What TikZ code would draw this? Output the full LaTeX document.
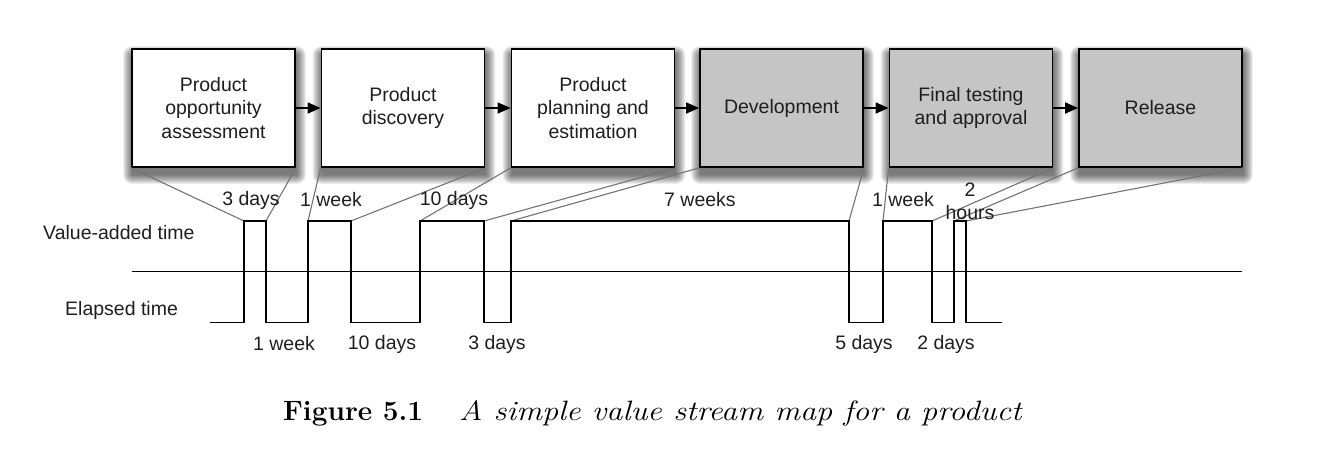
\documentclass[tikz,border=0pt]{standalone}
\usepackage{fontspec}
\setmainfont{Latin Modern Roman}
\newfontfamily\boxfont{Liberation Sans}
\usetikzlibrary{arrows.meta,backgrounds}

\definecolor{stepgray}{RGB}{197,197,197}
\definecolor{inkgray}{RGB}{30,30,30}
\definecolor{linkgray}{RGB}{115,115,115}

\tikzset{
  stage/.style={draw=black, line width=1.8pt, fill=white,
    minimum width=163pt, minimum height=118pt, inner sep=0pt,
    align=center, text=inkgray, font=\boxfont\fontsize{19.5}{23.5}\selectfont},
  stagedone/.style={stage, fill=stepgray},
  flow/.style={line width=1.8pt, -{Triangle[length=13pt,width=11pt]}},
  wave/.style={line width=1.8pt, line join=miter},
  link/.style={draw=linkgray, line width=1.1pt},
  lbl/.style={text=inkgray, inner sep=0pt, font=\boxfont\fontsize{19.5}{23}\selectfont, align=center}
}

\begin{document}
\begin{tikzpicture}[x=1pt,y=-1pt]
\useasboundingbox (0,0) rectangle (1320,456);

% process stages
\node[stage]     (s1) at (213.5,108) {Product\\opportunity\\assessment};
\node[stage]     (s2) at (403,108)   {Product\\discovery};
\node[stage]     (s3) at (593,108)   {Product\\planning and\\estimation};
\node[stagedone] (s4) at (781.5,108) {Development};
\node[stagedone] (s5) at (971,108)   {Final testing\\and approval};
\node[stagedone] (s6) at (1160.5,108) {Release};

% soft drop shadows behind the stages
\begin{pgfonlayer}{background}
\foreach \s in {s1,s2,s3,s4,s5,s6}{
  \foreach \r in {0,1,...,9}{
    \fill[black, opacity=0.07, rounded corners=\r pt]
      ([xshift=1pt-\r pt, yshift=-7pt-\r pt]\s.south west)
      rectangle ([xshift=1pt+\r pt, yshift=-7pt+\r pt]\s.north east);
  }
}
\end{pgfonlayer}

\foreach \a/\b in {s1/s2,s2/s3,s3/s4,s4/s5,s5/s6}
  \draw[flow] (\a.east) -- (\b.west);

% timeline corners (low = 322.5, axis = 271.5, high = 221)
\coordinate (t0)  at (210,322.5);
\coordinate (u1)  at (244,221);  \coordinate (d1)  at (266,221);
\coordinate (u2)  at (308,221);  \coordinate (d2)  at (351,221);
\coordinate (u3)  at (420,221);  \coordinate (d3)  at (484,221);
\coordinate (u4)  at (511,221);  \coordinate (d4)  at (849,221);
\coordinate (u5)  at (883,221);  \coordinate (d5)  at (932,221);
\coordinate (u6)  at (954,221);  \coordinate (d6)  at (966,221);
\coordinate (tE)  at (1002,322.5);
\coordinate (axL) at (131.5,271.5);
\coordinate (axR) at (1242,271.5);

% links from each stage to its value-added interval
\foreach \s/\u/\d in {s1/u1/d1,s2/u2/d2,s3/u3/d3,s4/u4/d4,s5/u5/d5,s6/u6/d6}{
  \draw[link] (\s.south west) -- (\u);
  \draw[link] (\s.south east) -- (\d);
}

% middle axis
\draw[wave] (axL) -- (axR);

% value-added / elapsed waveform
\draw[wave] (t0)
  -| (u1) -- (d1) |- (u2 |- t0) -- (u2) -- (d2) |- (u3 |- t0) -- (u3) -- (d3)
  |- (u4 |- t0) -- (u4) -- (d4) |- (u5 |- t0) -- (u5) -- (d5)
  |- (u6 |- t0) -- (u6) -- (d6) |- (tE);

% row labels
\node[lbl, anchor=west] (va) at (43,233) {Value-added time};
\node[lbl, anchor=west] (el) at (65,310) {Elapsed time};

% value-added durations
\node[lbl] (v1) at (251,200) {3 days};
\node[lbl] (v2) at (331,200) {1 week};
\node[lbl] (v3) at (454,200) {10 days};
\node[lbl] (v4) at (700,200) {7 weeks};
\node[lbl] (v5) at (903,200) {1 week};
\node[lbl] (v6) at (970,201.5) {2\\hours};

% waiting durations
\node[lbl] (w1) at (284,344) {1 week};
\node[lbl] (w2) at (382,344) {10 days};
\node[lbl] (w3) at (497,344) {3 days};
\node[lbl] (w4) at (864,344) {5 days};
\node[lbl] (w5) at (946,344) {2 days};

% caption
\node[anchor=base west, inner sep=0pt, font=\fontsize{28}{32}\selectfont] (cap) at (283,420)
  {\textbf{Figure 5.1}\hspace{36pt}\scalebox{1.15}[1]{\textit{A simple value stream map for a product}}};
\end{tikzpicture}
\end{document}
